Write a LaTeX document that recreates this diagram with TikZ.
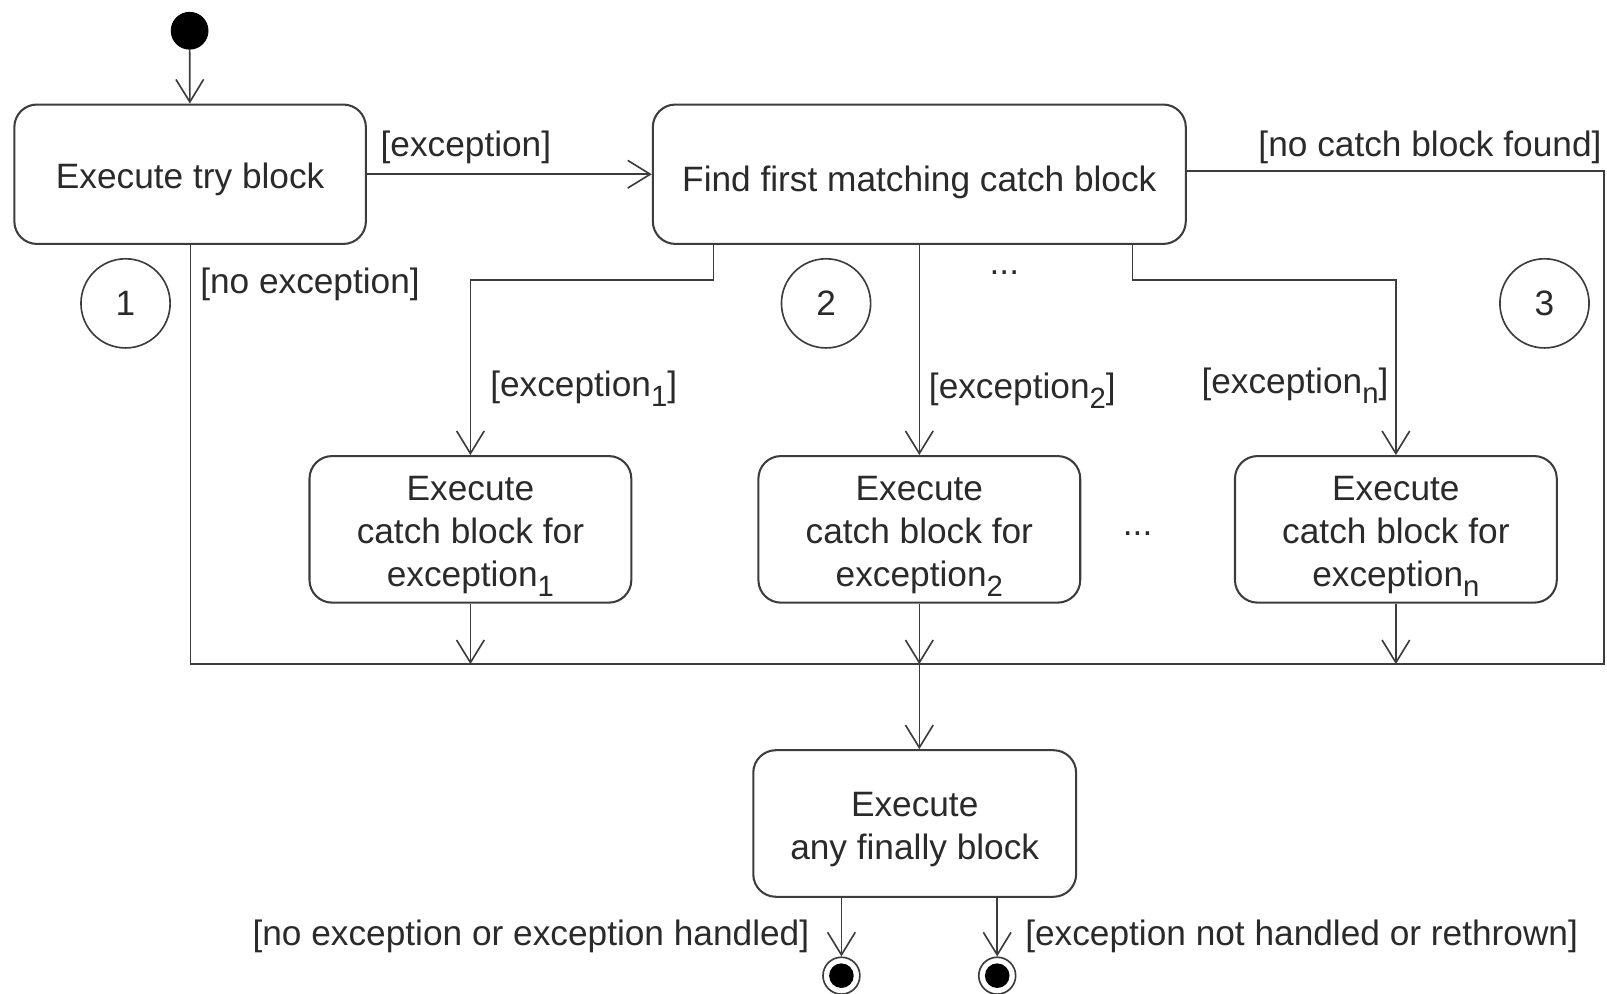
\documentclass[tikz,border=0pt]{standalone}
\usepackage{fontspec}
\setmainfont{Liberation Sans}
\usetikzlibrary{arrows.meta}
\definecolor{ink}{HTML}{2A2A2A}
\definecolor{wire}{HTML}{3C3C3C}
% lowered index, as in exception_1
\newcommand{\lowidx}[1]{\raisebox{-0.28em}{\fontsize{14.3}{14.3}\selectfont #1}}
% extra room above the first line of a state, pushing its text down
\newcommand{\headroom}[1]{\rule{0pt}{\dimexpr12.6pt+#1\relax}}
\begin{document}
\begin{tikzpicture}[x=0.5pt,y=-0.5pt,
  txt/.style={font=\fontsize{17.2}{21}\selectfont, text=ink, inner sep=0pt},
  guard/.style={txt, yshift=-2pt},
  state/.style={txt, draw=wire, line width=1pt, rounded corners=11pt, align=center},
  wireline/.style={draw=wire, line width=0.8pt},
  arr/.style={wireline, -{Straight Barb[length=11pt,width=13.5pt]}},
  marker/.style={txt, circle, draw=wire, line width=0.8pt, minimum size=43.5pt},
  startstate/.style={circle, fill=black, draw=black, inner sep=0pt, minimum size=18pt},
  endstate/.style={circle, draw=wire, fill=white, line width=0.8pt, inner sep=0pt, minimum size=18pt,
    path picture={\fill[black] (path picture bounding box.center) circle (6pt);}}]
\useasboundingbox (0,0) rectangle (1568,969);

% states
\node[startstate] (init) at (185,30) {};
\node[state, minimum width=171.5pt, minimum height=68pt] (try) at (185.5,170) {\headroom{5pt}Execute try block};
\node[state, minimum width=260pt, minimum height=68pt] (find) at (897,170) {\headroom{8pt}Find first matching catch block};
\node[state, minimum width=157pt, minimum height=71.5pt] (c1) at (459,516.5) {\headroom{6pt}Execute\\catch block for\\exception\lowidx{1}};
\node[state, minimum width=157pt, minimum height=71.5pt] (c2) at (897,516.5) {\headroom{6pt}Execute\\catch block for\\exception\lowidx{2}};
\node[state, minimum width=157pt, minimum height=71.5pt] (cn) at (1362,516.5) {\headroom{6pt}Execute\\catch block for\\exception\lowidx{n}};
\node[state, minimum width=157.5pt, minimum height=71.5pt] (fin) at (892.5,803.5) {\headroom{5pt}Execute\\any finally block};
\node[endstate] (end1) at (821,952) {};
\node[endstate] (end2) at (973,952) {};

% numbered markers
\node[marker] (m1) at (122.5,296) {1};
\node[marker] (m2) at (806,296) {2};
\node[marker] (m3) at (1507,296) {3};

% ellipses
\node[guard] (dots1) at (980,262) {...};
\node[guard] (dots2) at (1110,517) {...};

% guard labels
\node[guard, anchor=west] (lexc) at (371,140) {[exception]};
\node[guard, anchor=west] (lnoexc) at (195,273) {[no exception]};
\node[guard, anchor=east] (lnocatch) at (1563,140) {[no catch block found]};
\node[guard, anchor=west] (lex1) at (478,375) {[exception\lowidx{1}]};
\node[guard, anchor=west] (lex2) at (906,377) {[exception\lowidx{2}]};
\node[guard, anchor=west] (lexn) at (1172,372) {[exception\lowidx{n}]};
\node[guard, anchor=east] (lhandled) at (790,910) {[no exception or exception handled]};
\node[guard, anchor=west] (lrethrow) at (1000,910) {[exception not handled or rethrown]};

% routing points
\coordinate (busl) at (186,648);
\coordinate (busr) at (1565,648);
\coordinate (nc) at (1565,167);
\coordinate (b1) at (696,273);
\coordinate (bn) at (1105,273);

% transitions
\draw[arr] (init) -- (try);
\draw[arr] (try.east) -- (find.west);
\draw[wireline] (find.east |- nc) -- (nc) -- (busr) -- (busl) -- (try.south -| busl);
\draw[arr] (find.south -| b1) -- (b1) -- (b1 -| c1) -- (c1.north);
\draw[arr] (find.south -| c2) -- (c2.north);
\draw[arr] (find.south -| bn) -- (bn) -- (bn -| cn) -- (cn.north);
\draw[arr] (c1.south) -- (c1 |- busl);
\draw[arr] (c2.south) -- (c2 |- busl);
\draw[arr] (cn.south) -- (cn |- busl);
\draw[arr] (c2 |- busl) -- (c2 |- fin.north);
\draw[arr] (fin.south -| end1) -- (end1);
\draw[arr] (fin.south -| end2) -- (end2);
\end{tikzpicture}
\end{document}
